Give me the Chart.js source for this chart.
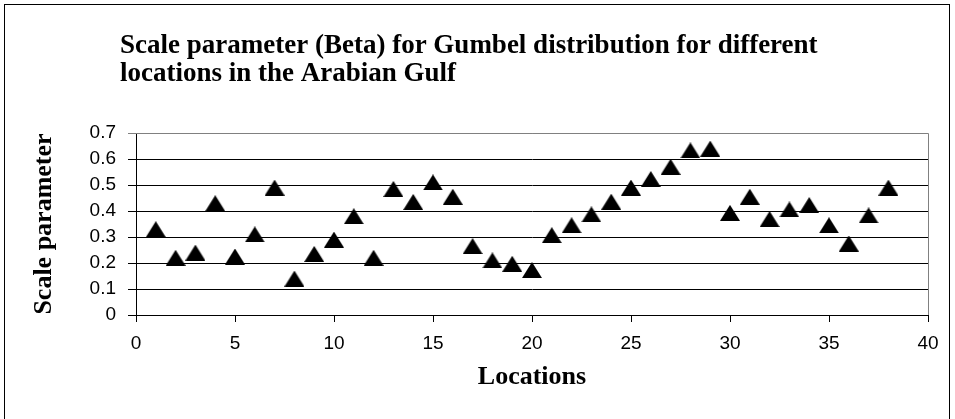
<!DOCTYPE html>
<html>
<head>
<meta charset="utf-8">
<script src="https://cdn.jsdelivr.net/npm/chart.js@4/dist/chart.umd.min.js"></script>
<style>
  body { margin: 0; background: #fff; }
  #wrap { width: 955px; height: 419px; }
</style>
</head>
<body>
<div id="wrap"><canvas id="betaChart" width="955" height="419"></canvas></div>
<script>
// location numbers and Gumbel scale parameter (beta)
const locations = [1, 2, 3, 4, 5, 6, 7, 8, 9, 10, 11, 12, 13, 14, 15, 16, 17, 18, 19,
    20, 21, 22, 23, 24, 25, 26, 27, 28, 29, 30, 31, 32, 33, 34, 35, 36, 37, 38];
const betaValues = [0.33, 0.22, 0.24, 0.43, 0.225, 0.31, 0.49, 0.14, 0.235, 0.29,
    0.38, 0.22, 0.485, 0.435, 0.51, 0.455, 0.265, 0.21, 0.197, 0.173,
    0.307, 0.345, 0.387, 0.436, 0.49, 0.523, 0.57, 0.633, 0.64, 0.393,
    0.455, 0.369, 0.406, 0.423, 0.345, 0.275, 0.383, 0.49];
const titleLines = ["Scale parameter (Beta) for Gumbel distribution for different",
    "locations in the Arabian Gulf"];

const serif = "'Liberation Serif', 'Times New Roman', serif";
const sans = "'Liberation Sans', Arial, sans-serif";

// triangle marker, centred on its bounding box like the spreadsheet one
function makeTriangle(w, h) {
    const c = document.createElement("canvas");
    c.width = w;
    c.height = h;
    const g = c.getContext("2d");
    g.fillStyle = "#000";
    g.beginPath();
    g.moveTo(w / 2, 0);
    g.lineTo(w, h);
    g.lineTo(0, h);
    g.closePath();
    g.fill();
    return c;
}

// frame, plot border and the wrapped title
const decor = {
    id: "decor",
    beforeDatasetsDraw(chart) {
        const { ctx, chartArea: a } = chart;
        ctx.save();
        ctx.strokeStyle = "#808080";
        ctx.lineWidth = 1;
        ctx.beginPath();
        ctx.moveTo(a.left, a.top + 0.5);
        ctx.lineTo(a.right + 0.5, a.top + 0.5);
        ctx.lineTo(a.right + 0.5, a.bottom);
        ctx.stroke();
        ctx.restore();
    },
    afterDraw(chart) {
        const ctx = chart.ctx;
        ctx.save();
        ctx.strokeStyle = "#000";
        ctx.lineWidth = 1;
        ctx.strokeRect(4.5, 4.5, 945, 430);
        ctx.fillStyle = "#000";
        ctx.font = "bold 27px " + serif;
        ctx.textBaseline = "alphabetic";
        ctx.fillText(titleLines[0], 120, 53);
        ctx.fillText(titleLines[1], 120, 81);
        ctx.restore();
    }
};

const points = locations.map((x, i) => ({ x: x, y: betaValues[i] }));

new Chart(document.getElementById("betaChart"), {
    type: "scatter",
    data: {
        datasets: [{
            data: points,
            pointStyle: makeTriangle(20, 16),
            pointRadius: 10,
            pointHoverRadius: 10,
            backgroundColor: "#000",
            borderColor: "#000"
        }]
    },
    options: {
        responsive: false,
        animation: false,
        events: [],
        layout: { padding: { left: 0, top: 133, right: 27, bottom: 20 } },
        plugins: {
            legend: { display: false },
            tooltip: { enabled: false }
        },
        scales: {
            x: {
                type: "linear",
                min: 0,
                max: 40,
                afterFit: (s) => { s.height = 84; },
                ticks: {
                    stepSize: 5,
                    padding: 10,
                    color: "#000",
                    font: { family: sans, size: 19 }
                },
                grid: { drawOnChartArea: false, drawTicks: true, tickLength: 7, color: "#000" },
                border: { color: "#000", width: 1 },
                title: {
                    display: true,
                    text: "Locations",
                    color: "#000",
                    padding: { top: 0, bottom: 6 },
                    font: { family: serif, size: 26, weight: "bold" }
                }
            },
            y: {
                min: 0,
                max: 0.7,
                afterFit: (s) => { s.width = 136; },
                ticks: {
                    stepSize: 0.1,
                    padding: 12,
                    color: "#000",
                    font: { family: sans, size: 19 }
                },
                grid: {
                    tickLength: 8,
                    color: (c) => (c.tick && c.tick.value >= 0.69 ? "#808080" : "#000")
                },
                border: { color: "#000", width: 1 },
                title: {
                    display: true,
                    text: "Scale parameter",
                    color: "#000",
                    padding: { top: 29, bottom: 0 },
                    font: { family: serif, size: 26, weight: "bold" }
                }
            }
        }
    },
    plugins: [decor]
});
</script>
</body>
</html>
